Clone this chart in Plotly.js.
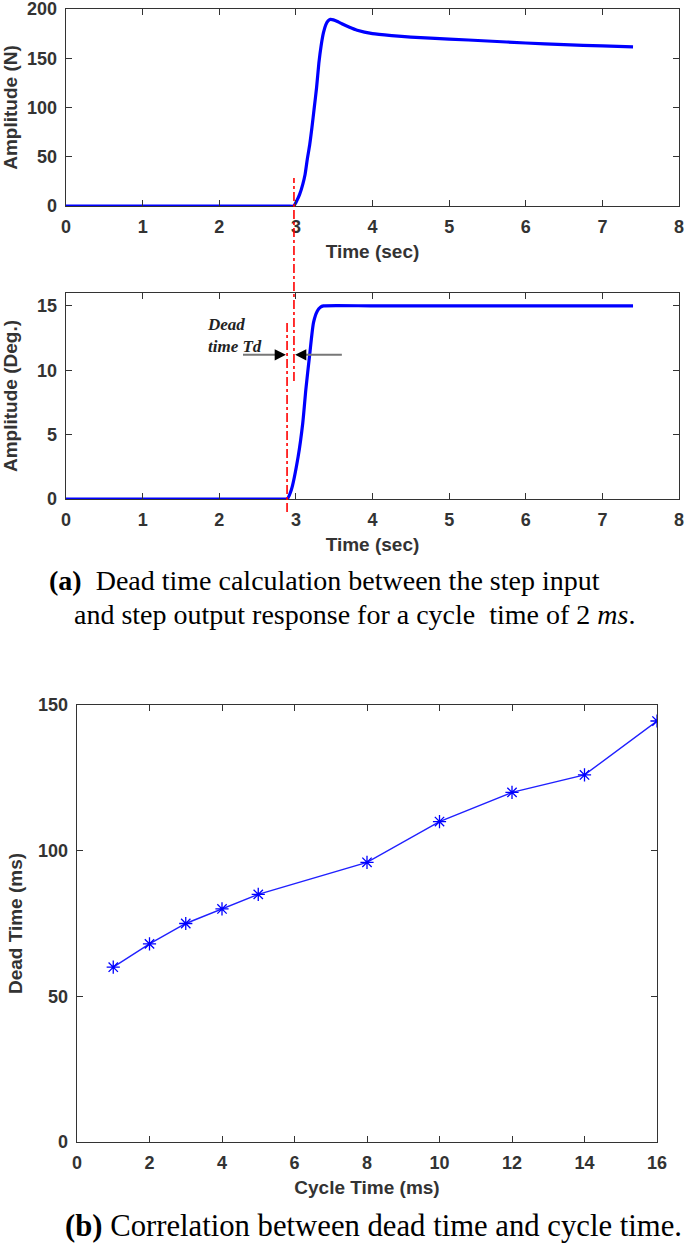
<!DOCTYPE html>
<html>
<head>
<meta charset="utf-8">
<script src="https://cdn.plot.ly/plotly-3.0.1.min.js"></script>
<style>
  html, body { margin: 0; padding: 0; background: #fff; }
  #plot { width: 685px; height: 1252px; }
</style>
</head>
<body>
<div id="plot"></div>
<script>
// Step output: force (N) vs time (sec)
let forceTime = [0, 1, 2, 2.5, 2.8, 2.9, 2.97, 3.01, 3.05, 3.09, 3.12, 3.15, 3.18, 3.21, 3.24, 3.27, 3.30, 3.33, 3.36, 3.39, 3.42, 3.45, 3.49, 3.55, 3.6, 3.7, 3.8, 4.0, 4.25, 4.5, 5.0, 5.5, 6.0, 6.5, 7.0, 7.4]
let forceAmp = [0, 0, 0, 0, 0, 0, 0, 5, 12, 22, 32, 48, 62, 80, 100, 120, 145, 163, 176, 184, 188, 189.5, 189, 187, 185, 181.5, 178.5, 175, 173, 171.5, 169.5, 167.5, 165.5, 163.8, 162.5, 161.5]

// Step input: angle (Deg.) vs time (sec)
let angleTime = [0, 1, 2, 2.5, 2.75, 2.84, 2.885, 2.94, 3.03, 3.09, 3.13, 3.18, 3.23, 3.28, 3.32, 3.36, 4, 5, 6, 7, 7.4]
let angleAmp = [0, 0, 0, 0, 0, 0, 0, 0.7, 3.3, 5.9, 8.5, 11.2, 13.7, 14.6, 14.9, 15, 15, 15, 15, 15, 15]

// Dead time vs cycle time
let cycleTime = [1, 2, 3, 4, 5, 8, 10, 12, 14, 16]
let deadTime = [60, 68, 75, 80, 85, 96, 110, 120, 126, 144.5]

// where the input and output start to move
let inputStart = 2.885
let outputStart = 2.975

let W = 685, H = 1252
let px = v => v / W
let py = v => 1 - v / H

let ink = '#333'
let tickFont = {family: 'Liberation Sans, Arial, sans-serif', size: 18, color: ink, weight: 'bold'}
let titleFont = {family: 'Liberation Sans, Arial, sans-serif', size: 19, color: ink, weight: 'bold'}
let capFontA = {family: 'Liberation Serif, Times New Roman, serif', size: 28, color: '#000'}
let capFontB = {family: 'Liberation Serif, Times New Roman, serif', size: 30.7, color: '#000'}

// matlab style box axes
function ax(extra) {
  return Object.assign({
    showline: true, mirror: 'ticks', linecolor: ink, linewidth: 1.3,
    ticks: 'inside', ticklen: 6, tickcolor: ink, tickwidth: 1,
    showgrid: false, zeroline: false, tickfont: tickFont, fixedrange: true,
    ticklabeloverflow: 'allow', ticklabelstandoff: 4
  }, extra)
}

let trace1 = {
  x: forceTime, y: forceAmp, xaxis: 'x', yaxis: 'y',
  mode: 'lines', line: {color: '#0000ff', width: 3.2, shape: 'spline', smoothing: 0.6}, hoverinfo: 'skip'
}
let trace2 = {
  x: angleTime, y: angleAmp, xaxis: 'x2', yaxis: 'y2',
  mode: 'lines', line: {color: '#0000ff', width: 3.2, shape: 'spline', smoothing: 0.6}, hoverinfo: 'skip'
}
let trace3 = {
  x: cycleTime, y: deadTime, xaxis: 'x3', yaxis: 'y3',
  mode: 'lines+markers', line: {color: '#2020ff', width: 1.4},
  marker: {symbol: 'asterisk-open', size: 11, color: '#0000ff', line: {color: '#0000ff', width: 1.3}}
}

let data = [trace1, trace2, trace3]

let layout = {
  width: W, height: H,
  margin: {l: 0, r: 0, t: 0, b: 0},
  showlegend: false,
  paper_bgcolor: '#fff', plot_bgcolor: '#fff',
  xaxis: ax({domain: [px(66), px(679)], anchor: 'y', range: [0, 8], dtick: 1,
    title: {text: 'Time (sec)', font: titleFont, standoff: 8}}),
  yaxis: ax({domain: [py(206), py(9)], anchor: 'x', range: [0, 200], tickvals: [0, 50, 100, 150, 200],
    title: {text: 'Amplitude (N)', font: titleFont, standoff: 7}}),
  xaxis2: ax({domain: [px(66), px(679)], anchor: 'y2', range: [0, 8], dtick: 1,
    title: {text: 'Time (sec)', font: titleFont, standoff: 8}}),
  yaxis2: ax({domain: [py(499), py(293)], anchor: 'x2', range: [0, 16], tickvals: [0, 5, 10, 15],
    title: {text: 'Amplitude (Deg.)', font: titleFont, standoff: 14}}),
  xaxis3: ax({domain: [px(77), px(657)], anchor: 'y3', range: [0, 16], dtick: 2,
    title: {text: 'Cycle Time (ms)', font: titleFont, standoff: 8}}),
  yaxis3: ax({domain: [py(1142), py(705)], anchor: 'x3', range: [0, 150], tickvals: [0, 50, 100, 150],
    title: {text: 'Dead Time (ms)', font: titleFont, standoff: 10}}),
  shapes: [
    // red dash-dot markers of the step starts
    {type: 'line', xref: 'x', yref: 'paper', x0: outputStart, x1: outputStart, y0: py(381), y1: py(178),
      line: {color: '#ff0000', width: 1.6, dash: 'dashdot'}},
    {type: 'line', xref: 'x2', yref: 'paper', x0: inputStart, x1: inputStart, y0: py(512), y1: py(321),
      line: {color: '#ff0000', width: 1.6, dash: 'dashdot'}},
    // gray arrow tails
    {type: 'line', xref: 'x2', yref: 'y2', x0: 2.31, x1: 2.74, y0: 11.2, y1: 11.2, line: {color: '#777', width: 2}},
    {type: 'line', xref: 'x2', yref: 'y2', x0: 3.13, x1: 3.6, y0: 11.2, y1: 11.2, line: {color: '#777', width: 2}}
  ],
  annotations: [
    {xref: 'x2', yref: 'y2', x: 2.87, y: 11.2, axref: 'x2', ayref: 'y2', ax: 2.72, ay: 11.2,
      showarrow: true, arrowhead: 2, arrowsize: 1.4, arrowwidth: 1.6, arrowcolor: '#000', text: ''},
    {xref: 'x2', yref: 'y2', x: 2.99, y: 11.2, axref: 'x2', ayref: 'y2', ax: 3.15, ay: 11.2,
      showarrow: true, arrowhead: 2, arrowsize: 1.4, arrowwidth: 1.6, arrowcolor: '#000', text: ''},
    {xref: 'paper', yref: 'paper', x: px(205), y: py(335), xanchor: 'left', yanchor: 'middle', align: 'left',
      showarrow: false, text: '<b><i>Dead<br>time Td</i></b>',
      font: {family: 'Liberation Serif, Times New Roman, serif', size: 17, color: '#222'}},
    // figure captions
    {xref: 'paper', yref: 'paper', x: px(47), y: py(580), xanchor: 'left', yanchor: 'middle', showarrow: false,
      text: '<b>(a)</b>  Dead time calculation between the step input', font: capFontA},
    {xref: 'paper', yref: 'paper', x: px(72), y: py(614), xanchor: 'left', yanchor: 'middle', showarrow: false,
      text: 'and step output response for a cycle  time of 2 <i>ms</i>.', font: capFontA},
    {xref: 'paper', yref: 'paper', x: px(63), y: py(1226), xanchor: 'left', yanchor: 'middle', showarrow: false,
      text: '<b>(b)</b> Correlation between dead time and cycle time.', font: capFontB}
  ]
}

Plotly.newPlot('plot', data, layout, {displayModeBar: false, staticPlot: true})
</script>
</body>
</html>
